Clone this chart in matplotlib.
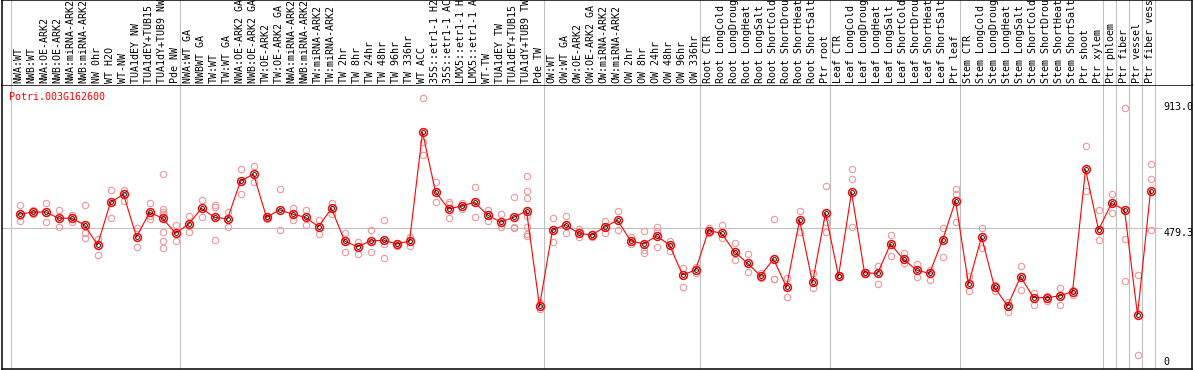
import matplotlib
matplotlib.use("Agg")
import matplotlib.pyplot as plt
from matplotlib.transforms import blended_transform_factory

gene = "Potri.003G162600"

labels = [
    "NWA:WT", "NWB:WT", "NWA:OE-ARK2", "NWB:OE-ARK2", "NWA:miRNA-ARK2", "NWB:miRNA-ARK2",
    "NW 0hr", "WT H2O", "WT-NW", "TUA1dEY NW", "TUA1dEY+TUB15 NW", "TUA1dY+TUB9 NW", "Pde NW",
    "NWA:WT GA", "NWBWT GA", "TW:WT", "TW:WT GA", "NWA:OE-ARK2 GA", "NWB:OE-ARK2 GA",
    "TW:OE-ARK2", "TW:OE-ARK2 GA", "NWA:miRNA-ARK2", "NWB:miRNA-ARK2", "TW:miRNA-ARK2",
    "TW:miRNA-ARK2", "TW 2hr", "TW 8hr", "TW 24hr", "TW 48hr", "TW 96hr", "TW 336hr", "WT ACC",
    "35S::etr1-1 H2O", "35S::etr1-1 ACC", "LMX5::etr1-1 H2O", "LMX5::etr1-1 ACC", "WT-TW",
    "TUA1dEY TW", "TUA1dEY+TUB15 TW", "TUA1dY+TUB9 TW", "Pde TW",
    "OW:WT", "OW:WT GA", "OW:OE-ARK2", "OW:OE-ARK2 GA", "OW:miRNA-ARK2", "OW:miRNA-ARK2",
    "OW 2hr", "OW 8hr", "OW 24hr", "OW 48hr", "OW 96hr", "OW 336hr",
    "Root CTR", "Root LongCold", "Root LongDrought", "Root LongHeat", "Root LongSalt",
    "Root ShortCold", "Root ShortDrought", "Root ShortHeat", "Root ShortSalt", "Ptr root",
    "Leaf CTR", "Leaf LongCold", "Leaf LongDrought", "Leaf LongHeat", "Leaf LongSalt",
    "Leaf ShortCold", "Leaf ShortDrought", "Leaf ShortHeat", "Leaf ShortSalt", "Ptr leaf",
    "Stem CTR", "Stem LongCold", "Stem LongDrought", "Stem LongHeat", "Stem LongSalt",
    "Stem ShortCold", "Stem ShortDrought", "Stem ShortHeat", "Stem ShortSalt", "Ptr shoot",
    "Ptr xylem", "Ptr phloem", "Ptr fiber", "Ptr vessel", "Ptr fiber vessel",
]

# columns per group (gray separators between them)
group_sizes = [13, 28, 12, 10, 10, 11, 1, 1, 1, 1]

means = [
    527, 533, 534, 513, 513, 491, 424, 566, 593, 450, 533, 513, 463,
    493, 546, 516, 511, 637, 660, 516, 541, 527, 516, 485, 546, 437, 418, 437, 440, 427,
    437, 800, 601, 544, 554, 566, 524, 500, 516, 537, 220,
    474, 491, 463, 457, 483, 507, 438, 427, 454, 424, 324, 340,
    472, 463, 401, 363, 321, 377, 283, 507, 299, 530,
    320, 600, 331, 329, 427, 376, 340, 329, 440, 571,
    293, 451, 283, 220, 318, 248, 248, 254, 268, 676, 474,
    563, 541, 190, 604,
]

replicates = [
    [557, 521, 505], [541, 527], [565, 500], [541, 483], [524, 500], [557, 465, 446],
    [443, 390], [607, 515], [607, 572], [482, 416], [565, 521, 510],
    [661, 543, 534, 526, 468, 437, 413], [491, 438],
    [521, 468], [574, 516], [557, 552, 440], [535, 483], [677, 594], [687, 635],
    [521, 510], [611, 474], [546, 507], [541, 491], [507, 461], [563, 527],
    [465, 401], [435, 393], [474, 401], [507, 427, 379], [432, 422], [452, 421],
    [913, 768, 724], [633, 566], [566, 560, 513], [565, 543], [616, 518], [541, 504],
    [526, 483], [583, 485, 482], [654, 604, 582, 521, 485, 461, 454], [231, 209],
    [513, 433], [521, 463], [476, 450], [461, 452], [505, 465], [537, 474],
    [452, 427], [470, 407, 398], [483, 472, 416], [438, 404], [346, 283], [351, 329],
    [480, 464], [491, 446], [429, 374], [394, 335], [329, 313], [511, 311, 309],
    [313, 249], [537, 468], [331, 279], [621, 501, 468],
    [324, 317], [677, 643, 485], [335, 327], [355, 293], [457, 387], [396, 363],
    [360, 316], [340, 307], [480, 385], [611, 594, 500],
    [320, 270], [482, 413], [290, 270], [232, 201], [354, 274], [263, 224],
    [255, 238], [279, 224], [274, 257], [754, 604], [541, 440],
    [594, 530], [880, 443, 304], [324, 57], [694, 643, 474],
]

ref_value = 479.3
max_label = "913.0"
mid_label = "479.3"

W, H = 1194, 370
fig = plt.figure(figsize=(W / 100, H / 100), dpi=100)

mono = "DejaVu Sans Mono"
fs = 7.2
grid_c = "#c0c0c0"
rep_c = "#f0969a"

left = 1.5 / W
width = (1192 - 1.5) / W
ax = fig.add_axes([left, 1 / H, width, 284 / H])
ax_lab = fig.add_axes([left, 285 / H, width, 85 / H], sharex=ax)

x_lo, x_hi = -1.385, 90.19
ax.set_xlim(x_lo, x_hi)
ax.set_ylim(10.0, 957.6)
ax_lab.set_ylim(0, 1)

for a in (ax, ax_lab):
    a.set_xticks([])
    a.set_yticks([])
    for s in a.spines.values():
        s.set_linewidth(1.1)
        s.set_color("black")
ax_lab.spines["bottom"].set_visible(False)

# group separators
k = 0
bounds = [0]
for g in group_sizes:
    k += g
    bounds.append(k)
for b in bounds:
    ax.axvline(b - 0.654, color=grid_c, lw=0.8, zorder=0)
    ax_lab.axvline(b - 0.654, color=grid_c, lw=0.8, zorder=0)

ax.hlines(ref_value, x_lo, 87.9, color=grid_c, lw=0.8, zorder=0)

# replicates
rx, ry = [], []
for i, vals in enumerate(replicates):
    for v in vals:
        rx.append(i)
        ry.append(v)
ax.plot(rx, ry, "o", ms=4.6, mfc="none", mec=rep_c, mew=0.8, zorder=2)

xs = list(range(len(means)))
ax.plot(xs, means, "-", color="red", lw=0.8, zorder=3)
ax.plot(xs, means, "o", ms=5.6, mfc="none", mec="red", mew=1.1, zorder=4)
ax.plot(xs, means, "o", ms=2.8, mfc="none", mec="black", mew=0.6, zorder=5)

# column labels (long ones run off the top edge, as in the original)
tr = blended_transform_factory(ax_lab.transData, ax_lab.transAxes)
for i, lab in enumerate(labels):
    ax_lab.text(i - 0.05, 2 / 85, lab, transform=tr, rotation=90, ha="center",
                va="bottom", fontsize=fs, family=mono, color="black")

ax.text(0.00655, 0.9588, gene, transform=ax.transAxes, color="red",
        fontsize=fs, family=mono, va="center", ha="left")

ax.text(0.9757, 0.9215, max_label, transform=ax.transAxes, fontsize=fs,
        family=mono, va="center", ha="left", clip_on=False)
ax.text(0.9757, 0.480, mid_label, transform=ax.transAxes, fontsize=fs,
        family=mono, va="center", ha="left", clip_on=False)
ax.text(0.9757, 0.026, "0", transform=ax.transAxes, fontsize=fs,
        family=mono, va="center", ha="left")

fig.savefig("out.png", dpi=100)
